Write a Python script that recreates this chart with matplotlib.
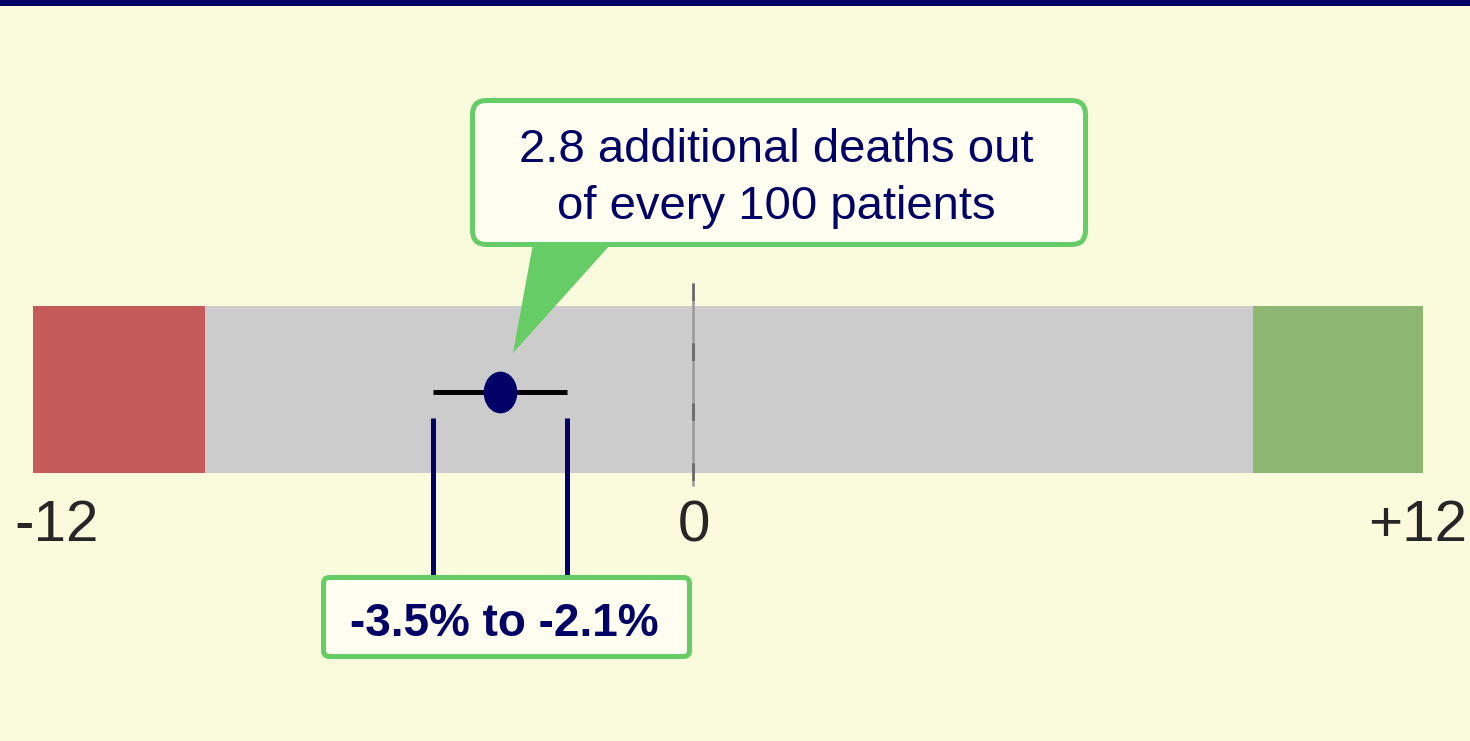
"""Absolute risk difference gauge: point estimate with its 95% range on a -12..+12 scale."""
import numpy as np
import matplotlib
matplotlib.use("Agg")
import matplotlib.pyplot as plt
from matplotlib.patches import FancyBboxPatch, Polygon, Rectangle
from matplotlib.path import Path
from matplotlib.transforms import Affine2D

# --------------------------------------------------------------------------- #
# data
# --------------------------------------------------------------------------- #
axis_limits = [-12, 12]
zone_edges = [-12, -9, 9, 12]               # harm | neutral | benefit
point_estimate = -2.8
ci_low, ci_high = -3.5, -2.1
tick_values = [-12, 0, 12]
tick_labels = ["-12", "0", "+12"]
callout_lines = ["2.8 additional deaths out", "of every 100 patients"]
range_label = f"{ci_low}% to {ci_high}%"

# --------------------------------------------------------------------------- #
# layout / style
# --------------------------------------------------------------------------- #
W, H = 1470, 741
BG = "#FAFADC"
NAVY = "#000066"
GREEN_EDGE = "#66CC66"
BOX_FILL = "#FFFEF0"
zone_colors = ["#C45A5A", "#CCCCCC", "#8DB672"]
FONT = ["Liberation Sans", "DejaVu Sans"]

# the gauge is drawn schematically (not linear): value -> pixel knots
GAUGE_VALUES = [-12, -9, -3.5, -2.1, 0, 9, 12]
GAUGE_PIX = [33, 205, 433, 567, 693, 1253, 1423]
BAR_TOP, BAR_BOTTOM = 306, 473             # pixels from top


def _fwd(x):
    return np.interp(x, GAUGE_VALUES, GAUGE_PIX)


def _inv(p):
    return np.interp(p, GAUGE_PIX, GAUGE_VALUES)


fig = plt.figure(figsize=(W / 100, H / 100), dpi=100, facecolor=BG)
# pixel-from-top coordinates for the annotation furniture
px = Affine2D().scale(1 / W, -1 / H).translate(0, 1) + fig.transFigure

ax = fig.add_axes([GAUGE_PIX[0] / W, (H - BAR_BOTTOM) / H,
                   (GAUGE_PIX[-1] - GAUGE_PIX[0]) / W, (BAR_BOTTOM - BAR_TOP) / H])
ax.set_xscale("function", functions=(_fwd, _inv))
ax.set_xlim(*axis_limits)
ax.set_ylim(BAR_BOTTOM, BAR_TOP)            # y in pixels from top
ax.axis("off")

# top rule
fig.add_artist(Rectangle((0, 0), W, 6, transform=px, color=NAVY, lw=0))

# zones
lefts = zone_edges[:-1]
widths = np.diff(zone_edges)
ax.barh((BAR_TOP + BAR_BOTTOM) / 2, widths, left=lefts, height=BAR_BOTTOM - BAR_TOP,
        color=zone_colors, linewidth=0, zorder=1)

# zero reference line (grey with darker dashes)
ax.plot([0, 0], [283, 486], color="#9a9a9a", lw=1.8, clip_on=False, zorder=2,
        solid_capstyle="butt")
ax.plot([0, 0], [283, 486], color="#666666", lw=1.8, clip_on=False, zorder=2,
        dashes=(7, 17), dash_capstyle="butt")

# confidence interval + point estimate
ax.plot([ci_low, ci_high], [391.5, 391.5], color="black", lw=3.6,
        solid_capstyle="butt", zorder=3)
oval = Path.unit_circle().transformed(Affine2D().scale(0.8, 1.0))
ax.plot([point_estimate], [391.5], marker=oval, ms=29, color=NAVY, mec=NAVY,
        zorder=4, clip_on=False)
for v in (ci_low, ci_high):
    ax.plot([v, v], [418, 577], color=NAVY, lw=3.6, clip_on=False,
            solid_capstyle="butt", zorder=3)

# tick labels under the bar
tick_style = [("left", -19), ("center", 1), ("right", 44)]
for v, lab, (ha, dx) in zip(tick_values, tick_labels, tick_style):
    ax.annotate(lab, xy=(v, 541), xycoords=(ax.transData, px),
                xytext=(dx, 0), textcoords="offset pixels",
                ha=ha, va="baseline", fontsize=42, color="#262626",
                family=FONT, annotation_clip=False)

# callout with tail
fig.add_artist(Polygon([(533, 244), (611, 244), (513, 353)], closed=True,
                       transform=px, fc=GREEN_EDGE, ec="none", zorder=5))
fig.add_artist(FancyBboxPatch((472.5, 100.5), 613, 144,
                              boxstyle="round,pad=0,rounding_size=14",
                              transform=px, fc=BOX_FILL, ec=GREEN_EDGE, lw=3.6,
                              zorder=6))
for line, base in zip(callout_lines, [162, 219]):
    fig.text(776 / W, 1 - base / H, line, ha="center", va="baseline",
             fontsize=34, color=NAVY, family=FONT, zorder=7)

# range box
fig.add_artist(FancyBboxPatch((323.5, 577.5), 366, 79,
                              boxstyle="round,pad=0,rounding_size=6",
                              transform=px, fc=BOX_FILL, ec=GREEN_EDGE, lw=3.6,
                              zorder=6))
fig.text(504 / W, 1 - 636 / H, range_label, ha="center", va="baseline",
         fontsize=33, fontweight="bold", color=NAVY, family=FONT, zorder=7)

fig.savefig("out.png", dpi=100, facecolor=BG)
